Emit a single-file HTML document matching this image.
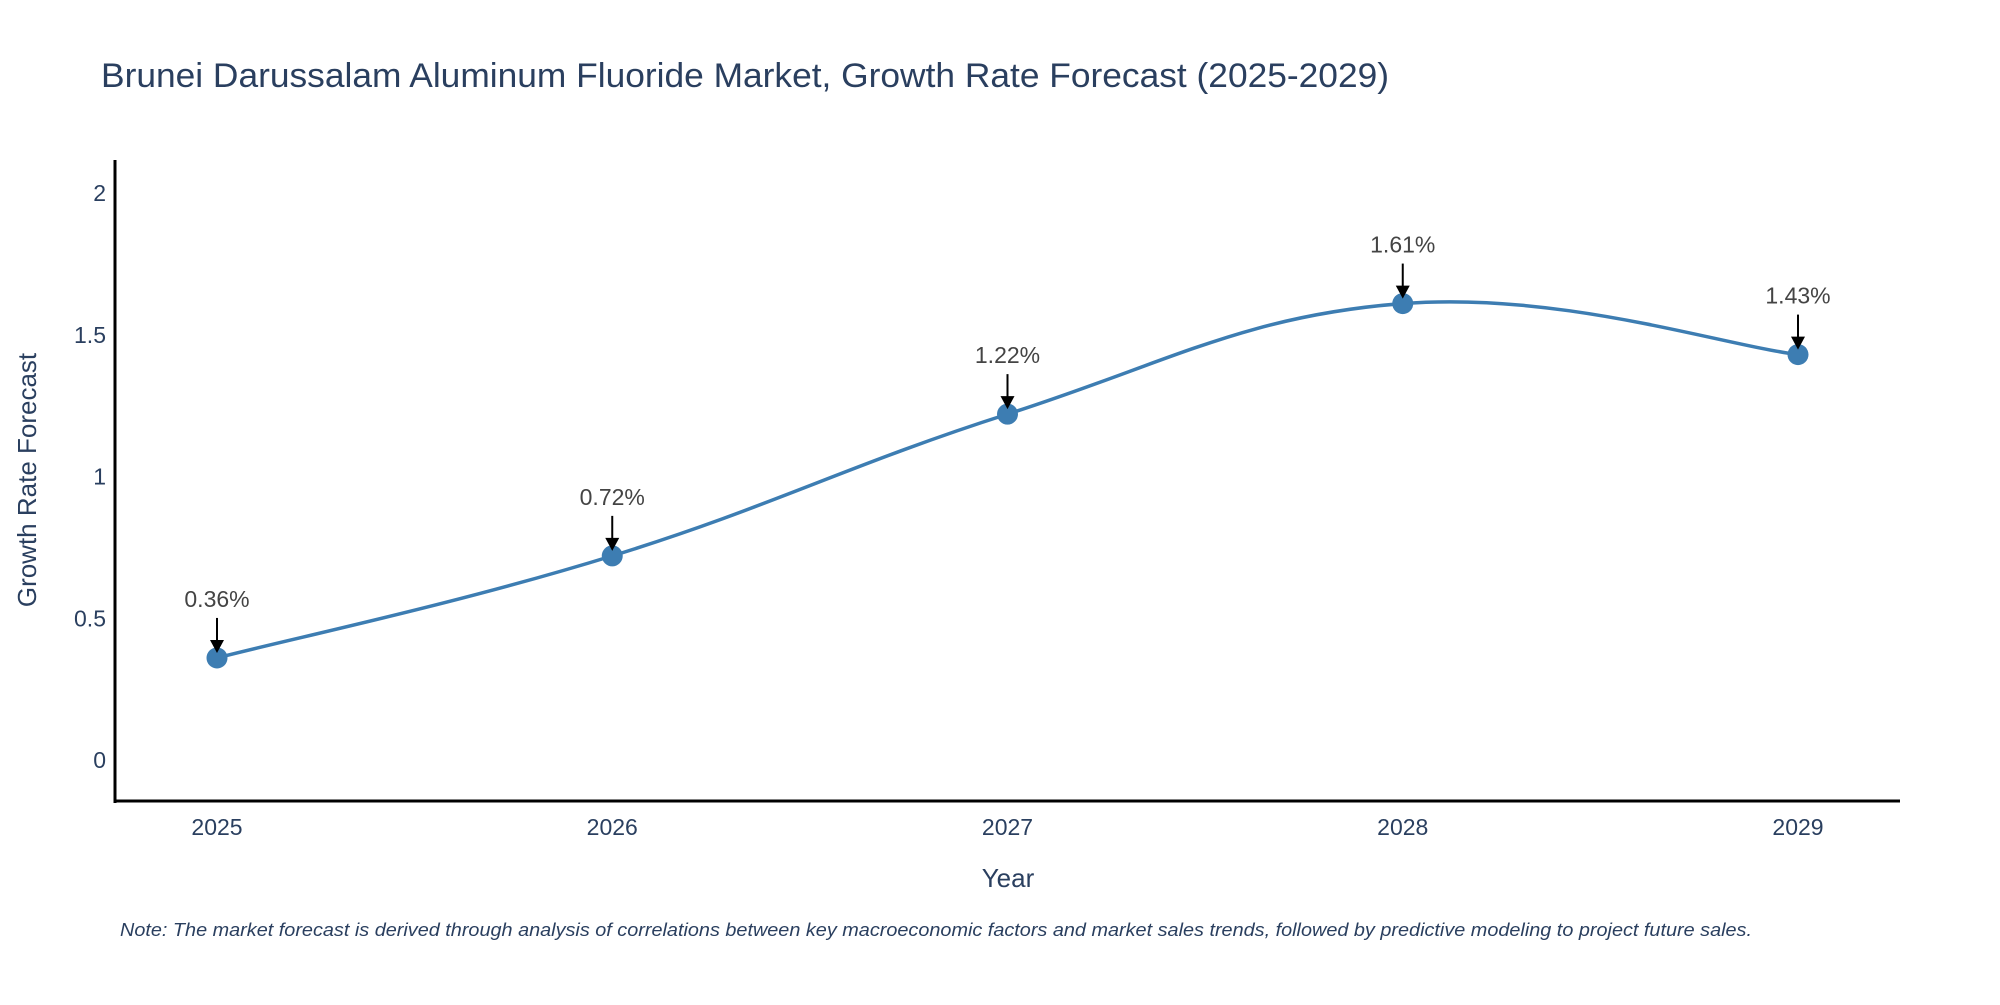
<!DOCTYPE html>
<html><head><meta charset="utf-8"><style>
html,body{margin:0;padding:0;background:#fff;}
svg text{font-family:"Liberation Sans",sans-serif;}
</style></head><body>
<svg id="chart" width="2000" height="1000" viewBox="0 0 2000 1000" xmlns="http://www.w3.org/2000/svg">
<rect width="2000" height="1000" fill="#fff"/>
<text x="101" y="87" font-size="34" fill="#2a3f5f" textLength="1288" lengthAdjust="spacingAndGlyphs">Brunei Darussalam Aluminum Fluoride Market, Growth Rate Forecast (2025-2029)</text>
<g id="yticks"></g><g id="xticks"></g>
<line x1="115" y1="160" x2="115" y2="803" stroke="#000" stroke-width="3"/>
<line x1="114" y1="801" x2="1900" y2="801" stroke="#000" stroke-width="3"/>
<text transform="translate(36,480) rotate(-90)" text-anchor="middle" font-size="26" fill="#2a3f5f">Growth Rate Forecast</text>
<text x="1008" y="887" text-anchor="middle" font-size="26" fill="#2a3f5f">Year</text>
<g id="series"></g>
<text x="120" y="936" font-size="18" font-style="italic" fill="#2a3f5f" textLength="1632" lengthAdjust="spacingAndGlyphs">Note: The market forecast is derived through analysis of correlations between key macroeconomic factors and market sales trends, followed by predictive modeling to project future sales.</text>
</svg>
<script>
const years = ['2025','2026','2027','2028','2029'];
const growth = [0.36, 0.72, 1.22, 1.61, 1.43];
const labels = ['0.36%','0.72%','1.22%','1.61%','1.43%'];
const yTicks = [0, 0.5, 1, 1.5, 2];
const yTickLabels = ['0','0.5','1','1.5','2'];

const NS='http://www.w3.org/2000/svg';
function xPos(i){return 217 + i*395.25;}
function yPos(v){return 760 - v*283.5;}
function mk(tag,attrs,parent){const e=document.createElementNS(NS,tag);for(const k in attrs)e.setAttribute(k,attrs[k]);parent.appendChild(e);return e;}

const yt=document.getElementById('yticks');
yTicks.forEach((v,i)=>{
  const t=mk('text',{x:106,y:yPos(v)+8,'text-anchor':'end','font-size':'23',fill:'#2a3f5f'},yt);
  
  
  t.textContent=yTickLabels[i];
});
const xt=document.getElementById('xticks');
years.forEach((y,i)=>{
  const t=mk('text',{x:xPos(i),y:835,'text-anchor':'middle','font-size':'23',fill:'#2a3f5f'},xt);
  
  
  t.textContent=y;
});

const g=document.getElementById('series');
const pts=growth.map((v,i)=>[xPos(i),yPos(v)]);
let d='M'+pts[0][0]+','+pts[0][1];
const s=0.2;
for(let i=0;i<pts.length-1;i++){
  const p0=pts[Math.max(0,i-1)],p1=pts[i],p2=pts[i+1],p3=pts[Math.min(pts.length-1,i+2)];
  const c1=[p1[0]+(p2[0]-p0[0])*s,p1[1]+(p2[1]-p0[1])*s];
  const c2=[p2[0]-(p3[0]-p1[0])*s,p2[1]-(p3[1]-p1[1])*s];
  d+=' C'+c1[0]+','+c1[1]+' '+c2[0]+','+c2[1]+' '+p2[0]+','+p2[1];
}
const line=mk('path',{d:d,fill:'none',stroke:'#3d7db2','stroke-width':'3.5'},g);


pts.forEach((p,i)=>{
  const c=mk('circle',{cx:p[0],cy:p[1],r:10.5,fill:'#3d7db2'},g);
  
  
  const a=mk('line',{x1:p[0],y1:p[1]-40,x2:p[0],y2:p[1]-16,stroke:'#000','stroke-width':'2'},g);
  
  
  const h=mk('polygon',{points:(p[0]-7)+','+(p[1]-18)+' '+(p[0]+7)+','+(p[1]-18)+' '+p[0]+','+(p[1]-5)},g);
  
  
  const t=mk('text',{x:p[0],y:p[1]-51,'text-anchor':'middle','font-size':'23',fill:'#444'},g);
  
  
  t.textContent=labels[i];
});
</script>
</body></html>
